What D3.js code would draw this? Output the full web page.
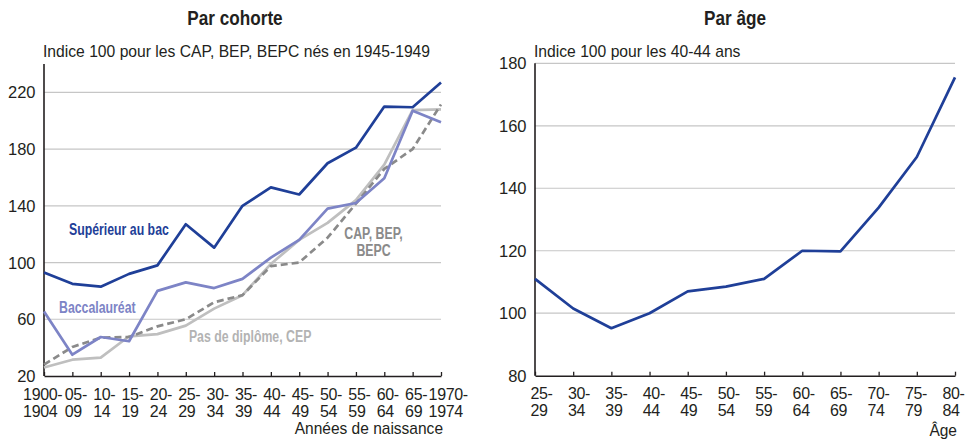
<!DOCTYPE html>
<html lang="fr">
<head>
<meta charset="utf-8">
<script src="https://d3js.org/d3.v7.min.js"></script>
<style>
  body { margin: 0; background: #fff; }
  svg text { font-family: "Liberation Sans", Arial, sans-serif; fill: #231f20; }
</style>
</head>
<body>
<svg width="973" height="439"></svg>
<script>
// --- left panel: par cohorte
var cohortes = ["1900-1904","05-09","10-14","15-19","20-24","25-29","30-34","35-39","40-44","45-49","50-54","55-59","60-64","65-69","1970-1974"];
var superieur = [93, 85, 83, 92, 98, 127, 110.5, 140, 153, 148, 170, 181, 210, 209.5, 227];
var bac       = [65.5, 35, 47.5, 44.5, 80, 86, 82, 88.5, 103.5, 116, 138, 142, 159.5, 207, 199];
var sansDipl  = [26, 31.5, 33, 48, 49.5, 55.5, 67.5, 77, 99, 116, 128, 144, 169, 207.5, 208];
var capBep    = [28, 40.5, 47, 47.5, 55, 60, 72, 77, 97.5, 100, 117.5, 141.5, 166, 180, 211.5];
var yTicksL = [20, 60, 100, 140, 180, 220];

// --- right panel: par âge
var ages = ["25-29","30-34","35-39","40-44","45-49","50-54","55-59","60-64","65-69","70-74","75-79","80-84"];
var parAge = [111, 101.5, 95.2, 100, 107, 108.5, 111, 120, 119.8, 133.8, 150, 175.5];
var yTicksR = [80, 100, 120, 140, 160, 180];

var cDark = "#1f3f98", cBac = "#7d84c6", cSans = "#bfbfbf", cCap = "#8a8a8a";

var svg = d3.select("svg");

// condensed text: horizontal squeeze around the anchor
function ctext(parent, x, y, txt, size, sx, opts) {
  opts = opts || {};
  return parent.append("text")
    .attr("transform", "translate(" + x + "," + y + ") scale(" + sx + ",1)")
    .attr("text-anchor", opts.anchor || "start")
    .style("font-size", size + "px")
    .style("font-weight", opts.bold ? "bold" : null)
    .style("fill", opts.color || null)
    .text(txt);
}

function drawPanel(o) {
  var g = svg.append("g");
  var x = d3.scalePoint().domain(o.cats).range([o.x0, o.x1]);
  var y = d3.scaleLinear().domain(o.ydom).range([o.y0, o.y1]);

  // grid
  g.append("g").selectAll("line").data(o.yticks.slice(1)).enter().append("line")
    .attr("x1", o.x0).attr("x2", o.x1)
    .attr("y1", function (d) { return y(d); }).attr("y2", function (d) { return y(d); })
    .attr("stroke", "#c6c6c6").attr("stroke-width", 1.2);

  // y labels
  g.append("g").selectAll("text").data(o.yticks).enter().append("text")
    .attr("x", o.x0 - 8.5).attr("y", function (d) { return y(d) + 6; })
    .attr("text-anchor", "end").style("font-size", "16.5px").text(function (d) { return d; });

  // x axis
  var ax = g.append("g").attr("transform", "translate(0," + o.y0 + ")")
    .call(d3.axisBottom(x).tickSize(-4).tickSizeOuter(0).tickFormat(""));
  ax.select(".domain").attr("stroke", "#231f20").attr("stroke-width", 1.6);
  ax.selectAll(".tick line").attr("stroke", "#231f20").attr("stroke-width", 1.3);

  // y axis line
  g.append("line").attr("x1", o.x0).attr("x2", o.x0).attr("y1", o.y0).attr("y2", y(o.ydom[1]))
    .attr("stroke", "#231f20").attr("stroke-width", 1.6);

  // x labels, two lines, left aligned
  var n = o.cats.length;
  g.append("g").selectAll("text").data(o.cats).enter().append("text")
    .style("font-size", "16px").style("letter-spacing", "-0.35px")
    .each(function (d, i) {
      var parts = d.split("-");
      var t = d3.select(this);
      var a = t.append("tspan").attr("y", o.y0 + 23.5).text(parts[0] + "-");
      var b = t.append("tspan").attr("y", o.y0 + 40.5).text(parts[1]);
      var w = b.node().getComputedTextLength();
      var off = i === 0 ? o.offFirst : (i === n - 1 ? o.offLast : o.offMid(i));
      var xx = x(d) + off - w / 2;
      a.attr("x", xx); b.attr("x", xx);
    });

  return { x: x, y: y, g: g };
}

// left
var L = drawPanel({ cats: cohortes, ydom: [20, 240], yticks: yTicksL, x0: 44, x1: 441, y0: 376, y1: 64,
  offFirst: -3.8, offLast: 4.7, offMid: function () { return 1; } });
// right
var R = drawPanel({ cats: ages, ydom: [80, 180], yticks: yTicksR, x0: 535, x1: 955, y0: 375.7, y1: 63.3,
  offFirst: 4, offLast: -4, offMid: function (i) { return 4 - i * 0.73; } });

function addLine(P, cats, vals, color, dash) {
  var line = d3.line().x(function (d, i) { return P.x(cats[i]); }).y(function (d) { return P.y(d); });
  P.g.append("path").datum(vals).attr("d", line).attr("fill", "none")
    .attr("stroke", color).attr("stroke-width", 2.7).attr("stroke-linejoin", "round")
    .attr("stroke-dasharray", dash || null);
}
addLine(L, cohortes, sansDipl, cSans);
addLine(L, cohortes, capBep, cCap, "7,4");
addLine(L, cohortes, bac, cBac);
addLine(L, cohortes, superieur, cDark);
addLine(R, ages, parAge, cDark);

// series labels (positions in data units: category index, value)
var xi = d3.scaleLinear().domain([0, cohortes.length - 1]).range([44, 441]);
var labels = [
  { t: "Supérieur au bac", i: 0.88, v: 119.5, c: cDark, a: "start" },
  { t: "CAP, BEP,", i: 11.62, v: 116.7, c: cCap, a: "middle" },
  { t: "BEPC", i: 11.62, v: 104.7, c: cCap, a: "middle" },
  { t: "Baccalauréat", i: 0.53, v: 64.4, c: cBac, a: "start" },
  { t: "Pas de diplôme, CEP", i: 5.11, v: 44, c: "#b3b3b3", a: "start" }
];
labels.forEach(function (d) {
  ctext(svg, xi(d.i), L.y(d.v), d.t, 16, 0.77, { bold: true, color: d.c, anchor: d.a });
});

// titles
ctext(svg, 235, 25, "Par cohorte", 19.5, 0.88, { bold: true, anchor: "middle" });
ctext(svg, 735, 25, "Par âge", 19.5, 0.88, { bold: true, anchor: "middle" });
ctext(svg, 43, 56.5, "Indice 100 pour les CAP, BEP, BEPC nés en 1945-1949", 16, 0.98);
ctext(svg, 534, 56.5, "Indice 100 pour les 40-44 ans", 16, 0.98);
ctext(svg, 443, 434, "Années de naissance", 16, 0.97, { anchor: "end" });
ctext(svg, 957, 436, "Âge", 16, 0.97, { anchor: "end" });
</script>
</body>
</html>
